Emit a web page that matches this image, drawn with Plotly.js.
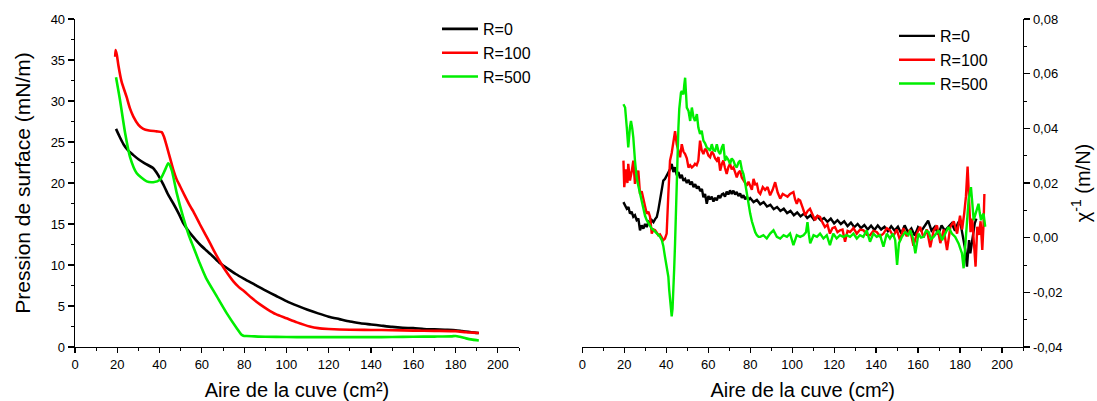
<!DOCTYPE html>
<html>
<head>
<meta charset="utf-8">
<script src="https://cdn.plot.ly/plotly-3.0.1.min.js"></script>
<style>
html,body{margin:0;padding:0;background:#fff;}
#chart{width:1097px;height:401px;}
</style>
</head>
<body>
<div id="chart"></div>
<script>
// ---- Left panel: surface pressure isotherms (Aire de la cuve, cm² -> Pression, mN/m)
const seriesNames = ['R=0', 'R=100', 'R=500'];
const seriesColors = ['#000000', '#ff0000', '#00ee00'];

const areaR0 = [19.4,21,23,25,27.6,30,33,37,39,41.8,44,46.5,49,51.2,54.4,57,59.1,62,65,68.6,72,76,80,85,90,95,100,105,110,115,120,125,130,135,140,145,150,155,160,165,170,175,180,183,186,189,191];
const piR0 = [26.6,25.7,24.7,24.0,23.4,22.9,22.4,21.8,21.1,19.8,18.6,17.5,16.3,15.1,13.9,13.1,12.5,11.8,11.1,10.2,9.6,8.9,8.3,7.6,6.9,6.25,5.6,5.05,4.55,4.1,3.7,3.4,3.1,2.9,2.75,2.6,2.45,2.35,2.3,2.2,2.15,2.1,2.05,1.95,1.85,1.75,1.7];

const areaR100 = [19.0,19.2,19.8,20.5,22,24.4,26,27.6,30,32.3,35,38.6,41,42,43.4,45,46.5,48,49.7,52,54.4,56,59,61.5,64,66,68.6,71.5,74.9,77.5,80,83.5,87.5,91,95,100,105,111,115,120,130,140,150,160,170,180,185,188,191];
const piR100 = [35.4,36.2,35.6,34.4,32.4,30.5,29.1,28.1,27.1,26.6,26.4,26.3,26.2,25.7,24.5,23.0,21.6,20.5,19.6,18.4,17.2,16.5,15.0,13.8,12.6,11.6,10.4,9.2,8.0,7.3,6.8,6.0,5.2,4.6,4.0,3.5,3.0,2.5,2.3,2.2,2.1,2.08,2.05,2.0,1.97,1.93,1.8,1.75,1.7];

const areaR500 = [19.4,21.3,23.7,26,29.2,33.9,37,40.2,42.6,44.1,45.7,48.1,51.2,54,56,59,62,67,71.8,76.5,78.8,80,81.2,85,90,100,110,120,130,140,150,160,170,178,180,182,185,188,191];
const piR500 = [32.9,30.1,26.1,23.2,21.2,20.2,20.1,20.4,21.6,22.4,21.6,18.8,15.8,13.5,12.2,10.2,8.4,6.2,4.1,2.3,1.5,1.35,1.35,1.3,1.25,1.22,1.2,1.2,1.2,1.2,1.22,1.25,1.27,1.3,1.35,1.25,1.05,0.9,0.8];

// ---- Right panel: inverse compressibility chi^-1 (m/N), [area, value] pairs
const chiR0 = [[19.6,0.0130],[20.4,0.0118],[21.2,0.0106],[22.0,0.0112],[22.7,0.0088],[23.5,0.0095],[24.3,0.0076],[25.1,0.0082],[25.9,0.0064],[26.7,0.0070],[27.5,0.0027],[28.3,0.0045],[29.1,0.0033],[29.9,0.0050],[30.7,0.0039],[31.5,0.0058],[32.3,0.0052],[33.1,0.0064],[33.9,0.0057],[34.7,0.0068],[35.5,0.0076],[36.2,0.0100],[37.0,0.0136],[37.8,0.0170],[38.6,0.0209],[39.4,0.0215],[40.2,0.0227],[41.0,0.0233],[41.8,0.0250],[42.6,0.0270],[43.4,0.0240],[44.2,0.0258],[45.0,0.0228],[45.8,0.0240],[46.6,0.0218],[47.4,0.0230],[48.2,0.0208],[49.0,0.0215],[49.8,0.0200],[50.6,0.0212],[51.4,0.0194],[52.2,0.0205],[53.0,0.0185],[53.8,0.0196],[54.6,0.0180],[55.4,0.0188],[56.2,0.0170],[57.0,0.0178],[57.7,0.0148],[58.5,0.0160],[59.3,0.0124],[60.1,0.0152],[60.9,0.0140],[61.7,0.0150],[62.5,0.0132],[63.3,0.0146],[64.1,0.0136],[64.9,0.0155],[65.7,0.0145],[66.5,0.0158],[67.2,0.0161],[68.0,0.0150],[68.8,0.0168],[69.6,0.0158],[70.4,0.0173],[71.2,0.0160],[72.0,0.0172],[72.8,0.0158],[73.6,0.0167],[74.4,0.0152],[75.2,0.0162],[76.0,0.0146],[76.8,0.0155],[77.6,0.0140],[78.4,0.0150],[79.2,0.0138],[80.0,0.0145],[81.6,0.0130],[83.2,0.0138],[84.8,0.0122],[86.4,0.0130],[88.0,0.0114],[89.6,0.0120],[91.2,0.0104],[92.8,0.0112],[94.4,0.0098],[96.0,0.0106],[97.6,0.0090],[99.2,0.0098],[100.8,0.0082],[102.4,0.0092],[104.0,0.0078],[105.6,0.0088],[107.2,0.0072],[108.8,0.0082],[110.4,0.0066],[112.0,0.0078],[113.6,0.0064],[115.2,0.0072],[116.8,0.0058],[118.4,0.0070],[120.0,0.0052],[121.6,0.0064],[123.2,0.0050],[124.8,0.0060],[126.4,0.0042],[128.0,0.0055],[129.6,0.0038],[131.2,0.0050],[132.8,0.0035],[134.4,0.0046],[136.0,0.0030],[137.6,0.0044],[139.2,0.0028],[140.8,0.0045],[142.4,0.0030],[144.0,0.0040],[145.6,0.0024],[147.2,0.0042],[148.8,0.0026],[150.4,0.0040],[152.0,0.0015],[153.6,0.0045],[155.2,0.0020],[156.8,0.0034],[158.4,0.0008],[160.0,0.0038],[161.6,0.0025],[163.2,0.0045],[164.8,0.0062],[166.4,0.0026],[168.0,0.0040],[169.6,0.0012],[171.2,0.0045],[172.8,0.0026],[174.4,0.0040],[176.0,0.0052],[177.6,0.0025],[179.2,0.0058],[180.4,0.0045],[181.4,0.0003],[182.5,-0.0045],[183.3,-0.0106],[184.3,-0.0009],[184.9,-0.0057],[186.0,0.0003],[187.0,0.0052],[187.8,0.0070]];

const chiR100 = [[19.6,0.0282],[20.0,0.0185],[20.8,0.0250],[21.5,0.0200],[21.9,0.0270],[22.7,0.0209],[23.5,0.0240],[24.3,0.0282],[25.1,0.0197],[25.9,0.0230],[26.7,0.0245],[27.5,0.0160],[28.3,0.0170],[29.1,0.0136],[29.9,0.0115],[30.7,0.0088],[31.5,0.0095],[32.3,0.0076],[33.1,0.0015],[33.9,0.0030],[34.7,0.0027],[35.5,0.0018],[36.2,0.0009],[37.0,0.0012],[37.8,0.0000],[38.6,-0.0009],[39.4,-0.0003],[40.2,0.0015],[41.0,0.0160],[41.8,0.0282],[42.6,0.0310],[43.4,0.0355],[44.2,0.0390],[45.0,0.0342],[45.8,0.0320],[46.6,0.0294],[47.4,0.0342],[48.2,0.0315],[49.0,0.0306],[49.8,0.0290],[50.6,0.0257],[51.4,0.0265],[52.2,0.0257],[53.0,0.0262],[53.7,0.0270],[54.5,0.0265],[55.3,0.0282],[56.1,0.0355],[56.9,0.0320],[57.7,0.0306],[58.5,0.0325],[59.3,0.0318],[60.1,0.0300],[60.9,0.0294],[61.7,0.0315],[62.5,0.0306],[63.3,0.0290],[64.1,0.0282],[64.9,0.0295],[65.7,0.0245],[66.5,0.0270],[67.2,0.0282],[68.0,0.0255],[68.8,0.0233],[69.6,0.0258],[70.4,0.0270],[71.2,0.0250],[72.0,0.0257],[72.8,0.0240],[73.6,0.0221],[74.4,0.0238],[75.2,0.0245],[76.0,0.0220],[76.8,0.0209],[77.6,0.0200],[78.4,0.0190],[79.2,0.0205],[80.0,0.0190],[80.8,0.0175],[81.6,0.0215],[82.4,0.0195],[83.2,0.0197],[84.0,0.0167],[84.8,0.0160],[86.0,0.0185],[87.1,0.0175],[88.3,0.0185],[89.5,0.0155],[90.7,0.0175],[91.9,0.0203],[93.1,0.0165],[94.3,0.0143],[95.5,0.0160],[96.6,0.0155],[97.8,0.0150],[99.0,0.0160],[100.6,0.0167],[101.4,0.0140],[102.2,0.0124],[103.0,0.0140],[103.8,0.0136],[105.0,0.0110],[106.2,0.0082],[107.4,0.0098],[108.5,0.0106],[109.7,0.0085],[110.9,0.0064],[112.1,0.0080],[113.3,0.0076],[114.5,0.0055],[115.6,0.0039],[116.8,0.0048],[118.0,0.0015],[119.2,0.0035],[120.4,0.0039],[121.6,0.0020],[122.8,0.0027],[124.0,0.0030],[125.2,-0.0015],[126.4,0.0025],[127.6,0.0021],[129.2,0.0035],[130.8,0.0015],[132.4,0.0030],[134.0,0.0027],[135.6,0.0010],[137.1,0.0009],[138.7,0.0025],[140.3,0.0021],[141.9,0.0005],[143.5,0.0015],[145.1,0.0035],[146.6,0.0027],[148.2,0.0005],[149.8,0.0030],[151.4,-0.0010],[153.0,0.0035],[154.6,0.0005],[156.2,0.0030],[157.8,-0.0030],[159.4,0.0015],[161.0,0.0040],[162.6,0.0000],[164.2,0.0030],[165.8,-0.0035],[167.4,0.0025],[169.0,0.0045],[170.6,-0.0020],[172.2,0.0030],[173.8,-0.0045],[175.4,0.0040],[177.0,0.0060],[178.6,0.0015],[180.0,0.0080],[181.0,0.0030],[182.0,0.0090],[182.8,0.0150],[183.6,0.0260],[184.3,0.0140],[185.0,0.0020],[185.8,0.0070],[186.6,-0.0010],[187.4,-0.0106],[188.2,0.0040],[189.0,0.0010],[189.8,0.0060],[190.6,-0.0045],[191.2,0.0050],[191.6,0.0160]];

const chiR500 = [[19.6,0.0488],[20.4,0.0476],[21.2,0.0403],[21.9,0.0330],[22.7,0.0403],[23.2,0.0427],[23.8,0.0400],[24.3,0.0367],[25.1,0.0282],[25.9,0.0221],[26.7,0.0190],[27.5,0.0160],[28.3,0.0130],[29.1,0.0100],[29.9,0.0080],[30.7,0.0064],[31.5,0.0052],[32.3,0.0042],[33.1,0.0033],[33.9,0.0028],[34.7,0.0022],[35.5,0.0015],[36.2,0.0010],[37.0,0.0004],[37.9,-0.0009],[38.6,-0.0030],[39.4,-0.0070],[40.2,-0.0100],[41.0,-0.0143],[41.4,-0.0190],[41.8,-0.0227],[42.2,-0.0270],[42.6,-0.0288],[43.0,-0.0260],[43.4,-0.0203],[43.8,-0.0110],[44.2,-0.0021],[44.6,0.0100],[45.0,0.0221],[45.4,0.0320],[45.8,0.0403],[46.2,0.0470],[46.6,0.0512],[47.0,0.0530],[47.4,0.0536],[48.2,0.0524],[48.6,0.0560],[49.0,0.0585],[49.4,0.0530],[49.8,0.0476],[50.6,0.0464],[51.4,0.0427],[52.2,0.0476],[53.0,0.0440],[53.7,0.0427],[54.6,0.0452],[55.3,0.0403],[56.1,0.0379],[56.9,0.0391],[57.7,0.0355],[58.5,0.0345],[59.3,0.0330],[60.1,0.0325],[60.9,0.0318],[61.7,0.0342],[62.5,0.0320],[63.3,0.0318],[64.1,0.0342],[64.9,0.0315],[65.7,0.0306],[66.5,0.0330],[67.2,0.0342],[68.0,0.0282],[68.8,0.0294],[69.6,0.0285],[70.4,0.0270],[71.2,0.0290],[72.0,0.0282],[72.8,0.0265],[73.6,0.0257],[74.4,0.0275],[75.2,0.0282],[76.0,0.0250],[76.8,0.0233],[77.6,0.0200],[78.4,0.0160],[79.2,0.0120],[80.0,0.0088],[80.8,0.0060],[81.5,0.0039],[82.4,0.0020],[83.2,0.0009],[84.0,0.0003],[84.8,0.0003],[86.3,0.0009],[87.9,-0.0003],[89.5,0.0015],[91.1,0.0027],[92.7,0.0003],[94.3,-0.0003],[95.9,0.0009],[97.5,0.0003],[99.0,0.0015],[100.6,-0.0027],[102.2,0.0009],[103.8,0.0003],[105.4,0.0009],[106.6,0.0020],[107.3,0.0057],[108.0,0.0010],[108.6,-0.0021],[110.2,0.0009],[111.8,0.0003],[113.3,0.0015],[114.9,-0.0003],[116.5,0.0009],[118.0,-0.0027],[119.6,0.0015],[121.2,-0.0003],[122.8,0.0009],[124.4,0.0003],[126.0,0.0009],[127.6,0.0003],[129.2,0.0015],[130.8,-0.0003],[132.3,0.0009],[133.9,0.0003],[135.5,0.0027],[137.1,-0.0015],[138.7,0.0015],[140.3,0.0003],[141.9,0.0009],[143.5,-0.0033],[145.1,0.0015],[146.6,-0.0003],[148.0,0.0015],[149.1,-0.0009],[150.0,-0.0100],[150.9,-0.0020],[152.3,0.0003],[153.8,0.0020],[155.4,0.0010],[156.3,0.0027],[157.5,0.0000],[158.7,-0.0057],[160.2,0.0015],[161.4,0.0000],[162.6,0.0003],[163.8,0.0025],[165.0,0.0021],[166.2,-0.0005],[167.4,0.0003],[168.6,0.0015],[169.8,0.0027],[171.4,-0.0009],[173.0,0.0015],[174.5,0.0039],[176.1,0.0015],[177.7,0.0003],[179.3,-0.0021],[180.2,-0.0040],[180.9,-0.0057],[181.7,-0.0112],[182.5,-0.0009],[183.1,0.0060],[183.6,0.0088],[184.1,0.0140],[184.6,0.0160],[185.2,0.0185],[185.7,0.0140],[186.5,0.0064],[187.1,0.0080],[187.7,0.0094],[188.3,0.0110],[188.8,0.0124],[189.4,0.0090],[190.0,0.0064],[190.6,0.0080],[191.2,0.0088],[191.6,0.0064],[192.0,0.0040]];

// tick labels
const xTickVals = [0,20,40,60,80,100,120,140,160,180,200];
const piTickVals = [0,5,10,15,20,25,30,35,40];
const chiTickVals = [-0.04,-0.02,0,0.02,0.04,0.06,0.08];
const chiTickText = ['-0,04','-0,02','0,00','0,02','0,04','0,06','0,08'];

const xTitle = 'Aire de la cuve (cm²)';
const piTitle = 'Pression de surface (mN/m)';
const chiTitle = 'χ<sup>-1</sup> (m/N)';

const FONT = 'Liberation Sans, Arial, sans-serif';

const leftX = [areaR0, areaR100, areaR500];
const leftY = [piR0, piR100, piR500];
const rightData = [chiR0, chiR100, chiR500];

const traces = [];
for (let i = 0; i < 3; i++) {
  traces.push({
    type: 'scatter', mode: 'lines', x: leftX[i], y: leftY[i],
    name: seriesNames[i], xaxis: 'x', yaxis: 'y', legend: 'legend',
    line: {color: seriesColors[i], width: 2.6, shape: 'spline', smoothing: 0.6}
  });
}
for (let i = 0; i < 3; i++) {
  traces.push({
    type: 'scatter', mode: 'lines',
    x: rightData[i].map(p => p[0]), y: rightData[i].map(p => p[1]),
    name: seriesNames[i], xaxis: 'x2', yaxis: 'y2', legend: 'legend2',
    line: {color: seriesColors[i], width: 2.4}
  });
}

const W = 1097, H = 401;
const mL = 75, mR = 74, mT = 19, mB = 54;
const pw = W - mL - mR, ph = H - mT - mB;
const px = v => (v - mL) / pw;     // pixel -> paper x
const py = v => (H - mB - v) / ph; // pixel -> paper y

const axisCommon = {
  showline: true, linecolor: '#000', linewidth: 1.3, mirror: false,
  showgrid: false, zeroline: false, ticks: 'outside', tickcolor: '#000',
  tickwidth: 1.2, ticklen: 6, tickfont: {family: FONT, size: 13, color: '#000'}
};

const layout = {
  width: W, height: H,
  margin: {l: mL, r: mR, t: mT, b: mB, pad: 0},
  paper_bgcolor: '#fff', plot_bgcolor: '#fff',
  font: {family: FONT, color: '#000', size: 13},
  xaxis: Object.assign({}, axisCommon, {
    domain: [0, px(519)], range: [0, 210], anchor: 'y',
    tickvals: xTickVals, ticklen: 5,
    minor: {dtick: 10, tick0: 0, ticklen: 3, ticks: 'outside', tickcolor: '#000', tickwidth: 1, showgrid: false},
    title: {text: xTitle, font: {family: FONT, size: 20, color: '#000'}, standoff: 12}
  }),
  yaxis: Object.assign({}, axisCommon, {
    domain: [0, 1], range: [0, 40], anchor: 'x',
    tickvals: piTickVals,
    minor: {dtick: 2.5, tick0: 0, ticklen: 3, ticks: 'outside', tickcolor: '#000', tickwidth: 1, showgrid: false},
    title: {text: piTitle, font: {family: FONT, size: 21, color: '#000'}, standoff: 14}
  }),
  xaxis2: Object.assign({}, axisCommon, {
    domain: [px(582.3), 1], range: [0, 210], anchor: 'y2',
    tickvals: xTickVals, ticklen: 5,
    minor: {dtick: 10, tick0: 0, ticklen: 3, ticks: 'outside', tickcolor: '#000', tickwidth: 1, showgrid: false},
    title: {text: xTitle, font: {family: FONT, size: 20, color: '#000'}, standoff: 12}
  }),
  yaxis2: Object.assign({}, axisCommon, {
    domain: [0, 1], range: [-0.04, 0.08], anchor: 'x2', side: 'right',
    tickvals: chiTickVals, ticktext: chiTickText,
    minor: {dtick: 0.01, tick0: 0, ticklen: 3, ticks: 'outside', tickcolor: '#000', tickwidth: 1, showgrid: false},
    title: {text: chiTitle, font: {family: FONT, size: 20, color: '#000'}, standoff: 14}
  }),
  legend: {
    x: px(437), y: py(12), xanchor: 'left', yanchor: 'top',
    bgcolor: 'rgba(0,0,0,0)', borderwidth: 0,
    font: {family: FONT, size: 16, color: '#000'}, tracegroupgap: 0, itemwidth: 36
  },
  legend2: {
    x: px(894), y: py(19), xanchor: 'left', yanchor: 'top',
    bgcolor: 'rgba(0,0,0,0)', borderwidth: 0,
    font: {family: FONT, size: 16, color: '#000'}, tracegroupgap: 0, itemwidth: 36
  },
  showlegend: true
};

Plotly.newPlot('chart', traces, layout, {displayModeBar: false, staticPlot: true});
</script>
</body>
</html>
